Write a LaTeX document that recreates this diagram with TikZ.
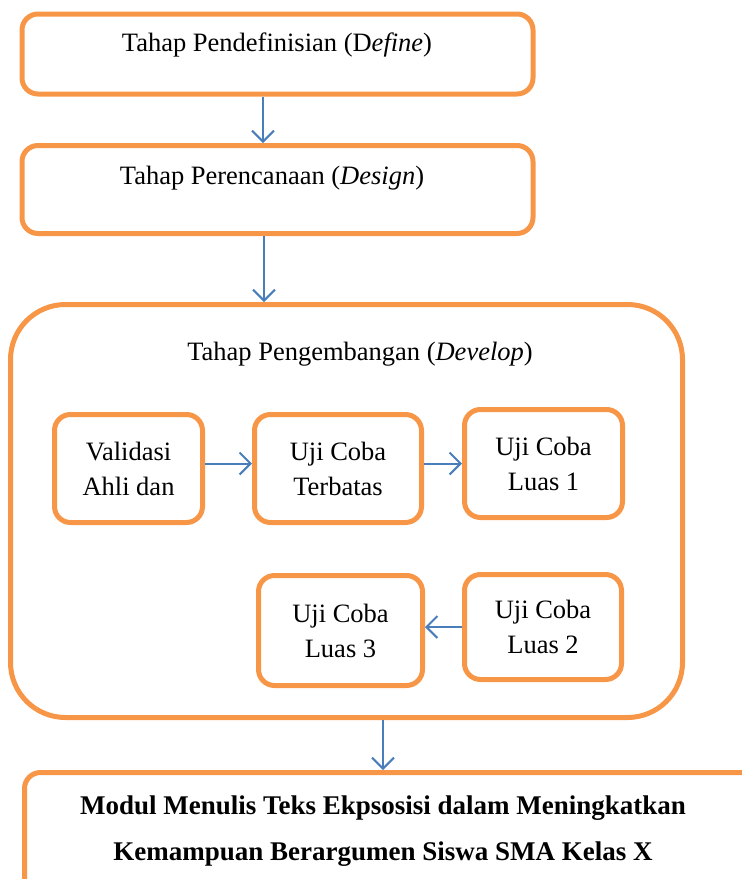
\documentclass[tikz,border=0pt]{standalone}
\usepackage{fontspec}
\setmainfont{Liberation Serif}
\usetikzlibrary{arrows.meta}
\definecolor{boxorange}{HTML}{F79646}
\definecolor{flowblue}{HTML}{4A7EBB}
\tikzset{
  stage/.style={draw=boxorange,line width=5pt,rounded corners=16pt,inner sep=0pt,align=center},
  flow/.style={draw=flowblue,line width=2pt,-{Straight Barb[length=11pt,width=22pt]}},
  lbl/.style={inner sep=0pt,align=center},
}
\begin{document}
\begin{tikzpicture}[x=1pt,y=-1pt,font=\fontsize{26.5}{35}\selectfont]
\useasboundingbox (0,0) rectangle (742,879);
\clip (0,0) rectangle (742,879);
\node[stage,minimum width=511pt,minimum height=80pt] (define) at (277.5,54) {};
\node[lbl] (definetxt) at (277,45) {Tahap Pendefinisian (D\textit{efine})};
\node[stage,minimum width=511pt,minimum height=88pt] (design) at (277.5,189.5) {};
\node[lbl] (designtxt) at (272,178) {Tahap Perencanaan (\textit{Design})};
\node[stage,rounded corners=55pt,minimum width=672pt,minimum height=413pt] (dev) at (346.5,511) {};
\node[lbl] (devtxt) at (360,354) {Tahap Pengembangan (\textit{Develop})};
\node[stage,minimum width=148pt,minimum height=108pt] (valid) at (128.5,468.5) {Validasi\\Ahli dan};
\node[stage,minimum width=167pt,minimum height=108pt] (terbatas) at (338,468.5) {Uji Coba\\Terbatas};
\node[stage,minimum width=158pt,minimum height=108pt] (luas1) at (543.5,463.5) {Uji Coba\\Luas 1};
\node[stage,minimum width=164pt,minimum height=110pt] (luas3) at (340.5,630.5) {Uji Coba\\Luas 3};
\node[stage,minimum width=157pt,minimum height=105pt] (luas2) at (543,627) {Uji Coba\\Luas 2};
\node[stage,minimum width=735pt,minimum height=127pt] (modul) at (392,836) {};
\node[lbl,font=\fontsize{27}{46}\selectfont\bfseries] (modultxt) at (383,831)
  {Modul Menulis Teks Ekpsosisi dalam Meningkatkan\\Kemampuan Berargumen Siswa SMA Kelas X};
\coordinate (a1) at (263,0);
\coordinate (a2) at (264,0);
\coordinate (a3) at (383,0);
\draw[flow] (a1 |- define.south) -- (a1 |- design.north);
\draw[flow] (a2 |- design.south) -- (a2 |- dev.north);
\draw[flow] ([yshift=5pt]valid.east) -- ([yshift=5pt]terbatas.west);
\draw[flow] ([yshift=5pt]terbatas.east) -- (luas1.west);
\draw[flow] (luas2.west) -- (luas2.west -| luas3.east);
\draw[flow] (a3 |- dev.south) -- (a3 |- modul.north);
\end{tikzpicture}
\end{document}
